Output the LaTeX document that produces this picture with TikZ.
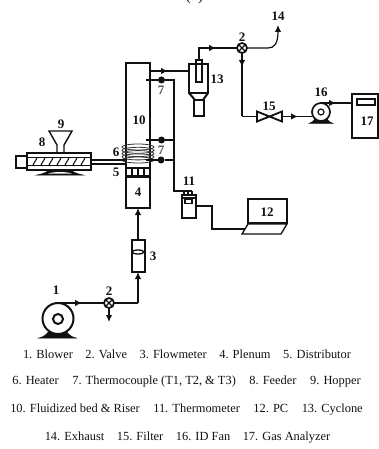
\documentclass[tikz,border=0pt]{standalone}
\usepackage{fontspec}
\setmainfont{Liberation Serif}
\usepackage{xcolor}
\usetikzlibrary{positioning,arrows.meta,shapes.geometric}
\definecolor{inkblack}{HTML}{111111}
\definecolor{inkgray}{HTML}{555555}
\definecolor{coilgray}{HTML}{333333}
\begin{document}
\begin{tikzpicture}[
    x=1pt,y=-1pt,
    every node/.style={inner sep=0pt,outer sep=0pt,text=inkblack},
    boxA/.style={rectangle,draw=inkblack,line width=2pt,fill=white},
    boxB/.style={rectangle,draw=inkblack,line width=1.3pt,fill=white},
    roundA/.style={circle,draw=inkblack,line width=2pt,fill=white},
    valvenode/.style={circle,draw=inkblack,line width=1.7pt,fill=white,minimum size=10pt},
    dotnode/.style={circle,fill=inkblack,minimum size=7pt},
    pipe/.style={draw=inkblack,line width=1.2pt},
    wire/.style={draw=inkblack,line width=1.1pt},
    flow/.style={pipe,-{Latex[length=7pt,width=6.5pt]}},
    numlabel/.style={font=\fontsize{13}{14}\selectfont\bfseries},
    graylabel/.style={numlabel,text=inkgray},
    legend/.style={font=\fontsize{12.4}{14}\selectfont,text=inkblack},
  ]
  \useasboundingbox (0,0) rectangle (379,449);
  \node[font=\fontsize{16}{16}\selectfont,anchor=base] (panel) at (194.5,0.5) {(a)};

  % riser column
  \node[boxA,minimum width=24pt,minimum height=105pt] (riser) at (138,115.5) {};
  \node[boxA,minimum width=24pt,minimum height=31pt] (plenum) at (138,192.5) {};
  \node[boxB,minimum width=24pt,minimum height=8pt] (dist) at (138,172) {};
  \foreach \xd in {132,138,144}
    \draw[wire,line width=1.3pt] (\xd,168) -- (\xd,176);
  \draw[draw=inkblack,line width=2.6pt] (dist.south west) -- (dist.south east);
  \foreach \yc in {147,150.3,153.6,156.9,160}
    \draw[draw=coilgray,line width=.8pt] (138,\yc) ellipse (16 and 3);
  \node[numlabel] (lten) at (139,120) {10};
  \node[numlabel] (lfour) at (138,192) {4};
  \node[numlabel] (lfive) at (116,172) {5};
  \node[numlabel] (lsix) at (116,152) {6};

  % feeder
  \draw[fill=inkblack,draw=inkblack,line width=.5pt] (37,175) -- (83,175) .. controls (77,174) and (73,172) .. (71,170) -- (49,170) .. controls (47,172) and (43,174) .. (37,175) -- cycle;
  \draw[fill=white,draw=none] (48,173.7) .. controls (53,171.5) and (67,171.5) .. (72,173.7) -- cycle;
  \node[boxB,minimum width=11pt,minimum height=12pt] (drive) at (21.5,162) {};
  \node[boxA,minimum width=64pt,minimum height=17pt] (feeder) at (59,161.5) {};
  \node[boxB,line width=1.1pt,minimum width=64pt,minimum height=7.5pt] (screw) at (59,161.5) {};
  \foreach \xh in {33,41,49,57,65,73,81}
    \draw[wire] (\xh,165) -- (\xh+4,158);
  \coordinate (pipeAs) at (91,160);
  \coordinate (pipeAe) at (126,160);
  \coordinate (pipeBs) at (91,164);
  \coordinate (pipeBe) at (126,164);
  \draw[pipe] (pipeAs) -- (pipeAe);
  \draw[pipe] (pipeBs) -- (pipeBe);
  \draw[draw=inkblack,line width=1.4pt] (64,153) -- (64,145) -- (72,131) -- (49,131) -- (57,145) -- (57,153);
  \node[numlabel] (lnine) at (61,124) {9};
  \node[numlabel] (leight) at (42,142) {8};

  % air supply
  \draw[fill=inkblack,draw=inkblack,line width=.5pt] (39,338) -- (76,338) .. controls (71,337) and (68,334) .. (66,331) -- (49,331) .. controls (47,334) and (44,337) .. (39,338) -- cycle;
  \node[roundA,minimum size=31pt] (blower) at (58,318.5) {};
  \node[roundA,minimum size=10pt] (blowerhub) at (58,319) {};
  \node[valvenode] (valveA) at (109,303) {};
  \draw[wire,line width=1.4pt] (valveA.45) -- (valveA.225) (valveA.135) -- (valveA.315);
  \coordinate (ventA) at (109,322);
  \coordinate (elbowA) at (138,303);
  \node[boxA,minimum width=13pt,minimum height=32pt] (flowm) at (138,256) {};
  \node[ellipse,draw=inkblack,line width=1.3pt,minimum width=12pt,minimum height=4pt] (flowfloat) at (138,252) {};
  \draw[pipe] (blower.north) -- (valveA);
  \draw[flow] (blower.north) -- (82,303);
  \draw[flow] (valveA) -- (ventA);
  \draw[pipe] (valveA) -- (elbowA);
  \draw[flow] (elbowA) -- (flowm.south);
  \draw[flow] (flowm.north) -- (plenum.south);
  \node[numlabel] (lone) at (56,290) {1};
  \node[numlabel] (ltwoA) at (109,291) {2};
  \node[numlabel] (lthree) at (153,256) {3};

  % cyclone
  \node[boxA,minimum width=19pt,minimum height=29pt] (cyclone) at (198.5,78.5) {};
  \node[boxA,minimum width=10pt,minimum height=16pt] (dust) at (199,108) {};
  \draw[draw=inkblack,line width=2pt] (cyclone.south west) -- (195,100) (cyclone.south east) -- (203,100);
  \node[boxA,minimum width=6pt,minimum height=22pt] (tube) at (199,71) {};
  \draw[wire] (tube.north west) ++(0,4) -- ++(6,0);
  \coordinate (riserout) at (150,71);
  \node[numlabel] (lthirteen) at (217,79) {13};
  \draw[pipe] (riserout) -- (cyclone.west |- riserout);
  \draw[flow] (riserout) -- (168,71);

  % exhaust and sampling line
  \node[valvenode] (valveB) at (242,48) {};
  \draw[wire,line width=1.4pt] (valveB.45) -- (valveB.225) (valveB.135) -- (valveB.315);
  \coordinate (elbowB) at (199,48);
  \coordinate (exhaust) at (278,25);
  \coordinate (elbowC) at (242,116.5);
  \draw[pipe] (tube.north) -- (elbowB) -- (valveB);
  \draw[flow] (elbowB) -- (216,48);
  \draw[flow] (valveB) -- (268,48) .. controls (274,48) and (278,44) .. (exhaust);
  \node[numlabel,above=4pt of exhaust] (lfourteen) {14};
  \node[numlabel] (ltwoB) at (242,37) {2};
  \draw[pipe] (valveB) -- (elbowC);
  \draw[flow] (valveB) -- (242,67);

  % filter, fan, analyzer
  \node[draw=none,minimum width=25pt,minimum height=10pt] (filter) at (269.5,116.5) {};
  \draw[draw=inkblack,line width=1.8pt] (filter.north west) -- (filter.south east) -- (filter.north east) -- (filter.south west) -- cycle;
  \node[numlabel] (lfifteen) at (269,106) {15};
  \draw[fill=inkblack,draw=inkblack,line width=.5pt] (309,123.5) -- (333,123.5) .. controls (330,122.5) and (328,121) .. (327,119) -- (315,119) .. controls (314,121) and (312,122.5) .. (309,123.5) -- cycle;
  \node[roundA,line width=1.7pt,minimum size=18pt] (fan) at (321,112) {};
  \node[roundA,line width=1.2pt,minimum size=6pt] (fanhub) at (321,112) {};
  \node[numlabel] (lsixteen) at (321,92) {16};
  \node[boxA,minimum width=26pt,minimum height=44pt] (analyzer) at (365,116) {};
  \node[boxA,minimum width=18pt,minimum height=6pt] (display) at (366,102.5) {};
  \node[numlabel] (lseventeen) at (367,121) {17};
  \draw[pipe] (elbowC) -- (filter.west);
  \draw[pipe] (filter.east) -- (fan.west |- filter);
  \draw[flow] (filter.east) -- (298,116.5);
  \draw[pipe] (fan.north) -- (analyzer.west |- fan.north);
  \draw[flow] (fan.north) -- (336,103);

  % thermocouples
  \node[dotnode] (tcA) at (161.5,80) {};
  \node[dotnode] (tcB) at (161.5,140) {};
  \node[dotnode] (tcC) at (161,160) {};
  \coordinate (probeA) at (146,80);
  \coordinate (probeB) at (146,140);
  \coordinate (probeC) at (146,160);
  \coordinate (busA) at (174,80);
  \coordinate (busB) at (174,140);
  \coordinate (busC) at (174,160);
  \coordinate (busD) at (174,191);
  \coordinate (busE) at (192,191);
  \draw[wire] (probeA) -- (tcA) -- (busA) -- (busD) -- (busE);
  \draw[wire] (probeB) -- (tcB) -- (busB);
  \draw[wire] (probeC) -- (tcC) -- (busC);
  \node[graylabel] (lsevenA) at (161,90) {7};
  \node[graylabel] (lsevenB) at (161,150) {7};

  % thermometer and pc
  \foreach \xs in {184,188,192}
    \draw[wire,line width=1.4pt] (\xs,191) -- (\xs,195);
  \node[boxA,minimum width=14pt,minimum height=23pt] (thermo) at (189,206.5) {};
  \node[boxB,minimum width=7pt,minimum height=3.5pt] (thermoscreen) at (188.5,201.5) {};
  \draw[draw=inkblack,line width=1.5pt] (182,198) -- (196,198);
  \node[numlabel] (leleven) at (189,181) {11};
  \node[boxA,line width=1.6pt,minimum width=39pt,minimum height=24pt] (screen) at (267.5,211) {};
  \node[numlabel] (ltwelve) at (267,212) {12};
  \coordinate (baseA) at (248,224);
  \coordinate (baseB) at (287,224);
  \coordinate (baseC) at (281,234);
  \coordinate (baseD) at (242,234);
  \draw[draw=inkblack,line width=1.3pt] (baseA) -- (baseB) -- (baseC) -- (baseD) -- cycle;
  \coordinate (kneeA) at (212,206);
  \coordinate (kneeB) at (212,229);
  \coordinate (pcin) at (244.5,229);
  \draw[wire] (thermo.east |- kneeA) -- (kneeA) -- (kneeB) -- (pcin);

  % legend
  \node[legend] (legA) at (187,354) {1. Blower\hspace{12.5pt}2. Valve\hspace{12.5pt}3. Flowmeter\hspace{12.5pt}4. Plenum\hspace{12.5pt}5. Distributor};
  \node[legend] (legB) at (186.5,382) {6. Heater\hspace{13.5pt}7. Thermocouple (T1, T2, \& T3)\hspace{13.5pt}8. Feeder\hspace{13.5pt}9. Hopper};
  \node[legend] (legC) at (186.5,410) {10. Fluidized bed \& Riser\hspace{13.5pt}11. Thermometer\hspace{13.5pt}12. PC\hspace{13.5pt}13. Cyclone};
  \node[legend] (legD) at (187.5,438) {14. Exhaust\hspace{12.5pt}15. Filter\hspace{12.5pt}16. ID Fan\hspace{12.5pt}17. Gas Analyzer};
\end{tikzpicture}
\end{document}
